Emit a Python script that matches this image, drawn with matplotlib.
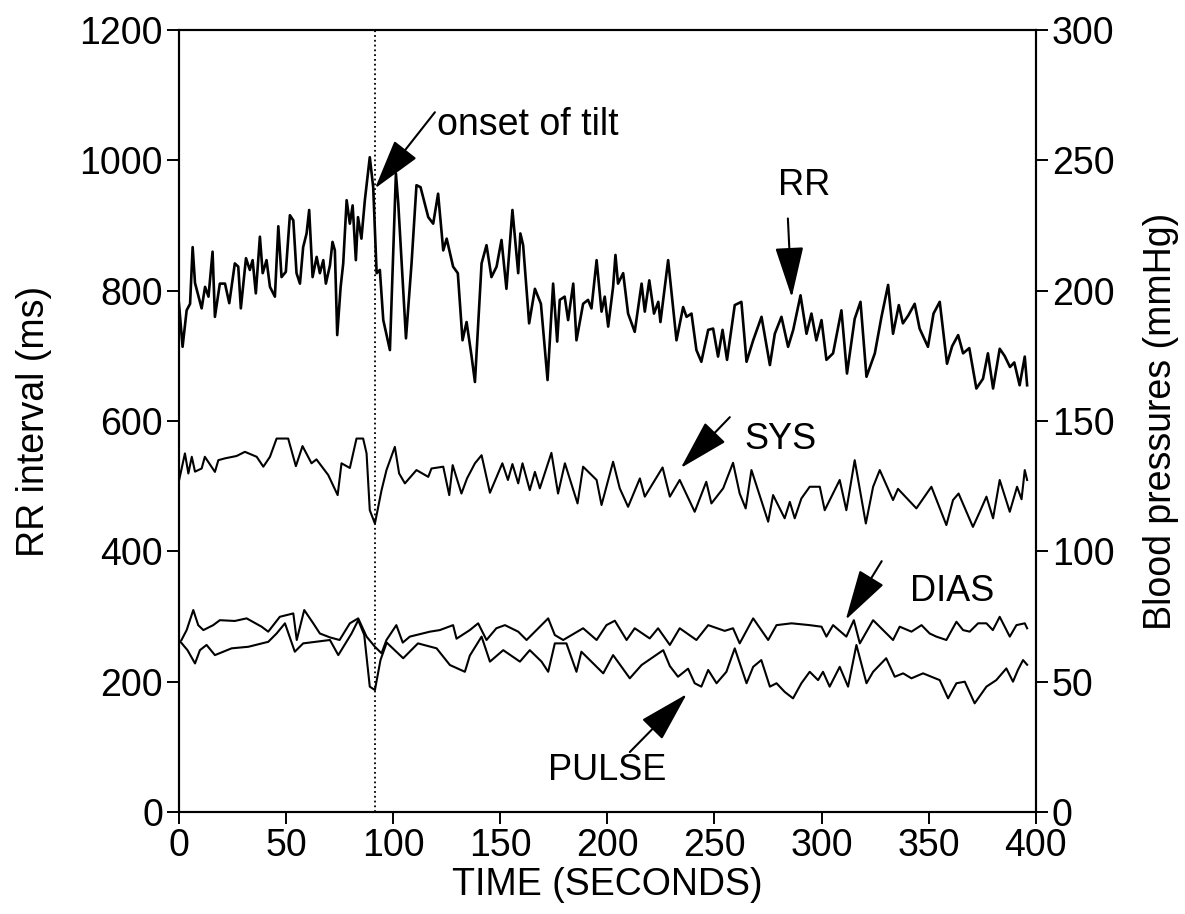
import numpy as np
import matplotlib.pyplot as plt

plt.rcParams['font.family'] = ['Liberation Sans', 'DejaVu Sans']

# RR interval trace (s, ms)
rr_t = [0.0, 1.7, 3.6, 5.2, 6.4, 7.5, 10.6, 12.2, 13.8, 15.7, 16.8, 19.1, 21.5, 23.5, 26.1,
        27.7, 28.9, 31.3, 33.1, 34.4, 35.9, 37.8, 39.1, 40.9, 42.5, 44.8, 46.4, 47.9, 49.9,
        51.8, 53.4, 54.9, 56.5, 58.0, 59.6, 60.8, 62.4, 64.3, 65.8, 67.4, 68.6, 70.5, 71.7,
        72.8, 73.9, 75.5, 76.7, 78.3, 79.8, 81.1, 82.6, 83.6, 85.2, 86.8, 89.1, 90.7, 92.3,
        93.8, 95.4, 98.5, 101.3, 102.4, 106.0, 108.6, 110.9, 112.8, 116.4, 118.7, 121.0,
        123.4, 125.0, 128.0, 130.2, 132.4, 134.3, 136.6, 138.2, 141.3, 143.6, 145.9, 148.3, 150.6,
        152.9, 155.7, 158.4, 159.4, 160.7, 163.5, 166.2, 169.0, 172.1, 174.7, 176.6, 177.8, 180.1,
        181.7, 184.1, 185.6, 188.7, 191.0, 192.6, 195.0, 197.3, 198.8, 200.4, 202.7, 203.8,
        205.0, 207.4, 209.7, 212.8, 216.0, 217.5, 219.6, 221.8, 223.8, 224.8, 228.4, 232.3,
        235.4, 237.0, 239.3, 241.6, 243.9, 247.1, 249.4, 251.7, 253.8, 255.9, 259.5, 262.6,
        265.0, 268.1, 272.0, 275.9, 278.2, 281.3, 284.4, 286.8, 290.2, 293.0, 295.3, 297.6,
        300.0, 302.3, 305.4, 309.3, 311.9, 315.5, 318.2, 321.0, 324.9, 328.0, 331.1, 333.4,
        336.1, 338.0, 340.5, 343.5, 345.8, 349.7, 352.3, 355.2, 358.6, 361.0, 363.8, 366.1,
        369.0, 372.3, 375.4, 377.7, 380.1, 383.2, 385.5, 388.0, 390.0, 392.5, 394.9, 396.0]
rr_ms = [781, 714, 770, 780, 867, 812, 773, 806, 791, 860, 760, 811, 811, 781, 842,
         837, 773, 850, 832, 847, 796, 883, 827, 847, 806, 791, 899, 821, 829,
         916, 908, 827, 811, 867, 888, 924, 821, 852, 827, 847, 811, 839, 875,
         862, 732, 806, 842, 939, 903, 931, 847, 913, 880, 939, 1005, 959, 827,
         832, 755, 709, 980, 934, 727, 842, 962, 959, 913, 903, 949,
         862, 880, 837, 827, 724, 752, 700, 660, 842, 870, 821, 837, 878,
         803, 924, 827, 888, 870, 750, 803, 780, 663, 811, 722, 786, 791,
         755, 811, 724, 780, 786, 773, 847, 768, 791, 745, 806, 855,
         811, 827, 765, 737, 811, 768, 816, 765, 783, 752, 847, 724,
         775, 760, 765, 709, 691, 740, 742, 699, 740, 694, 778, 783,
         691, 724, 760, 686, 734, 760, 714, 740, 793, 734, 765, 724,
         755, 694, 704, 770, 673, 757, 783, 668, 704, 760, 809, 734,
         778, 750, 762, 780, 742, 714, 765, 783, 688, 715, 732, 704,
         712, 650, 665, 704, 650, 711, 700, 683, 690, 655, 699, 655]

# systolic pressure (s, mmHg)
sys_t = [0.1, 2.8, 4.4, 6.0, 7.5, 10.6, 12.1, 16.8, 18.4, 21.5, 26.9, 30.8, 36.3, 39.4,
         42.5, 45.6, 51.0, 54.6, 57.7, 61.9, 64.2, 69.7, 74.1, 75.9, 79.8, 82.9, 86.0,
         87.6, 89.1, 91.5, 94.6, 96.9, 100.8, 102.8, 105.5, 110.9, 116.4, 117.9, 123.4,
         126.2, 127.8, 131.9, 134.5, 138.2, 141.3, 145.2, 151.0, 153.6, 155.7, 158.4,
         160.4, 163.8, 166.2, 168.5, 173.9, 177.0, 180.2, 186.1, 188.7, 195.0, 197.3,
         202.7, 205.8, 209.7, 215.2, 217.5, 225.8, 229.2, 233.8, 240.8, 246.2, 248.6,
         254.1, 258.7, 261.8, 264.6, 267.3, 275.1, 277.4, 282.8, 285.2, 287.5, 290.6,
         294.5, 299.2, 301.5, 308.5, 311.6, 315.5, 320.7, 324.1, 327.2, 333.4, 335.7,
         344.3, 351.3, 358.3, 361.4, 364.0, 370.7, 373.8, 377.0, 380.1, 383.2, 387.9,
         391.3, 393.4, 394.9, 396.0]
sys_mmhg = [127.4, 137.6, 129.9, 136.3, 130.6, 131.8, 136.3, 130.5, 135.0, 135.7, 136.6, 138.2, 136.3, 132.5,
            136.3, 143.3, 143.3, 132.7, 140.4, 133.8, 135.3, 129.3, 121.6, 133.8, 132.0, 143.3, 143.3,
            137.6, 115.8, 110.7, 123.5, 131.2, 140.1, 129.9, 126.1, 131.2, 128.6, 131.8, 132.5,
            121.6, 133.1, 122.2, 128.0, 133.8, 136.9, 122.5, 133.8, 127.4, 133.5, 126.1,
            133.8, 123.5, 130.5, 124.2, 137.8, 122.2, 133.8, 118.4, 132.5, 127.4, 117.8,
            134.4, 124.2, 117.1, 128.0, 121.0, 132.2, 121.0, 127.4, 115.2, 126.7, 118.4,
            124.2, 134.0, 122.2, 116.5, 131.2, 111.4, 121.6, 112.7, 119.0, 112.7, 120.3,
            124.8, 124.8, 115.8, 127.4, 115.8, 135.0, 110.7, 124.8, 131.2, 119.7, 124.0,
            116.5, 124.8, 110.1, 119.7, 122.2, 109.4, 115.0, 121.0, 112.7, 127.4, 115.2,
            124.8, 120.0, 131.2, 127.4]

# diastolic pressure (s, mmHg)
dias_t = [1.2, 3.6, 6.7, 9.0, 11.4, 16.0, 19.1, 26.1, 31.6, 38.6, 41.7, 47.1, 53.4, 55.0,
          58.5, 62.7, 65.8, 70.5, 75.0, 79.8, 83.7, 87.6, 91.5, 94.6, 96.9, 101.5, 104.5,
          107.8, 117.2, 121.8, 128.0, 129.6, 135.8, 139.7, 143.6, 148.2, 152.2, 158.4,
          162.3, 172.4, 175.5, 179.4, 188.7, 195.0, 199.6, 203.5, 209.0, 212.8, 219.8,
          223.7, 229.2, 233.8, 241.6, 247.1, 254.8, 258.7, 261.8, 268.1, 275.1, 279.0,
          286.0, 294.5, 300.0, 302.3, 305.4, 311.6, 315.1, 317.9, 324.1, 333.4, 336.5,
          342.0, 346.7, 350.5, 353.6, 358.3, 363.0, 366.1, 369.2, 373.1, 377.0, 380.0,
          383.2, 387.9, 391.0, 394.9, 396.0]
dias_mmhg = [66.0, 69.8, 77.5, 71.7, 69.8, 71.7, 73.6, 73.3, 74.3, 71.1, 69.2, 74.9, 76.2, 66.0,
             77.5, 72.4, 68.5, 67.0, 66.0, 72.4, 74.3, 67.3, 63.4, 60.9, 66.0, 71.7, 65.0,
             67.3, 69.2, 69.8, 71.7, 66.5, 69.8, 72.4, 66.0, 70.5, 71.7, 69.2,
             66.0, 74.3, 67.9, 66.0, 70.5, 66.0, 71.7, 73.4, 66.0, 70.5, 66.6,
             70.5, 64.1, 70.5, 66.0, 71.7, 69.5, 70.5, 64.7, 74.3, 66.0, 71.7,
             72.4, 71.7, 71.1, 67.3, 71.7, 67.3, 73.6, 64.7, 73.6, 66.0, 71.1,
             69.2, 71.7, 68.5, 67.3, 66.0, 73.0, 69.8, 69.2, 72.4, 72.4, 69.8,
             74.9, 67.3, 71.7, 72.4, 70.5]

# pulse pressure (s, mmHg)
pulse_t = [0.0, 4.0, 7.5, 9.8, 12.9, 16.8, 24.6, 32.4, 41.7, 45.6, 49.5, 54.1, 58.0, 70.5,
           74.4, 80.6, 83.7, 86.5, 89.1, 91.5, 94.1, 97.0, 104.7, 111.6, 120.3, 126.5,
           133.5, 135.8, 141.3, 145.2, 151.4, 159.2, 163.8, 169.3, 172.4, 175.5, 180.9,
           185.6, 187.9, 198.1, 202.7, 210.5, 216.0, 226.1, 229.2, 233.0, 237.7, 240.8,
           243.9, 247.1, 251.0, 255.6, 259.5, 265.0, 268.1, 271.9, 275.9, 279.0, 282.8, 286.7,
           290.6, 294.5, 298.4, 300.7, 303.8, 308.5, 312.4, 316.3, 321.0, 324.1, 330.2, 334.2,
           338.1, 342.0, 347.4, 351.3, 355.2, 359.1, 363.0, 366.9, 371.5,
           377.0, 381.6, 386.3, 389.4, 391.7, 394.1, 396.0]
pulse_mmhg = [66.0, 62.1, 57.0, 62.1, 64.1, 60.2, 62.8, 63.4, 65.3, 68.5, 72.4, 61.5, 64.7, 66.0,
              60.2, 68.5, 73.6, 68.0, 48.1, 46.8, 58.3, 65.0, 59.0, 64.7, 62.8, 56.4,
              53.8, 60.0, 67.3, 57.7, 62.1, 57.7, 62.1, 57.7, 53.8, 64.7, 64.7,
              53.8, 61.5, 53.2, 60.2, 51.3, 56.4, 62.1, 56.0, 51.9, 55.0, 49.4,
              48.1, 54.5, 49.4, 53.8, 62.8, 49.4, 55.7, 58.3, 48.1, 49.4, 46.1, 43.6,
              49.4, 53.8, 50.6, 53.8, 48.1, 55.7, 48.1, 64.1, 49.4, 53.8, 59.0, 51.9,
              53.2, 51.3, 53.2, 51.9, 50.6, 43.6, 49.4, 50.0, 41.7,
              48.1, 50.6, 55.1, 50.0, 54.5, 58.3, 56.5]

tilt_onset = 91.5

fig, ax = plt.subplots(figsize=(11.85, 9.14), dpi=100)
fig.subplots_adjust(left=0.151, right=0.874, bottom=0.1116, top=0.967)
ax2 = ax.twinx()

ax.plot(rr_t, rr_ms, color='black', lw=1.9)
ax2.plot(sys_t, sys_mmhg, color='black', lw=1.5)
ax2.plot(dias_t, dias_mmhg, color='black', lw=1.5)
ax2.plot(pulse_t, pulse_mmhg, color='black', lw=1.5)
ax.axvline(tilt_onset, color='black', ls=':', lw=1.3)

ax.set_xlim(0, 400)
ax.set_ylim(0, 1200)
ax2.set_ylim(0, 300)
ax.set_xticks(np.arange(0, 401, 50))
ax.set_yticks(np.arange(0, 1201, 200))
ax2.set_yticks(np.arange(0, 301, 50))

for a in (ax, ax2):
    a.tick_params(direction='out', length=8.5, width=1.4, labelsize=27, pad=3)
    for s in a.spines.values():
        s.set_linewidth(1.5)

ax.set_xlabel('TIME (SECONDS)', fontsize=27, labelpad=2)
ax.set_ylabel('RR interval (ms)', fontsize=27, labelpad=20)
ax2.set_ylabel('Blood pressures (mmHg)', fontsize=27, labelpad=21)

arrow = dict(arrowstyle='-|>,head_length=1.6,head_width=0.45', mutation_scale=20,
             lw=1.5, color='black', shrinkA=0, shrinkB=0)

# annotations (positions in left-axis units)
ax.annotate('', xy=(91.5, 957), xytext=(119.5, 1074), arrowprops=arrow)
ax.text(120.5, 1054, 'onset of tilt', fontsize=27, ha='left', va='center')

ax.annotate('', xy=(286.1, 790), xytext=(284.3, 911), arrowprops=arrow)
ax.text(292, 962, 'RR', fontsize=26, ha='center', va='center')

ax.annotate('', xy=(234.3, 528), xytext=(257.2, 606), arrowprops=arrow)
ax.text(264.2, 571, 'SYS', fontsize=26, ha='left', va='center')

ax.annotate('', xy=(311.3, 295), xytext=(328.1, 385), arrowprops=arrow)
ax.text(341.2, 338, 'DIAS', fontsize=26, ha='left', va='center')

ax.annotate('', xy=(237.1, 181), xytext=(210.5, 92), arrowprops=arrow)
ax.text(172.2, 64, 'PULSE', fontsize=26, ha='left', va='center')

fig.savefig('out.png', dpi=100)
